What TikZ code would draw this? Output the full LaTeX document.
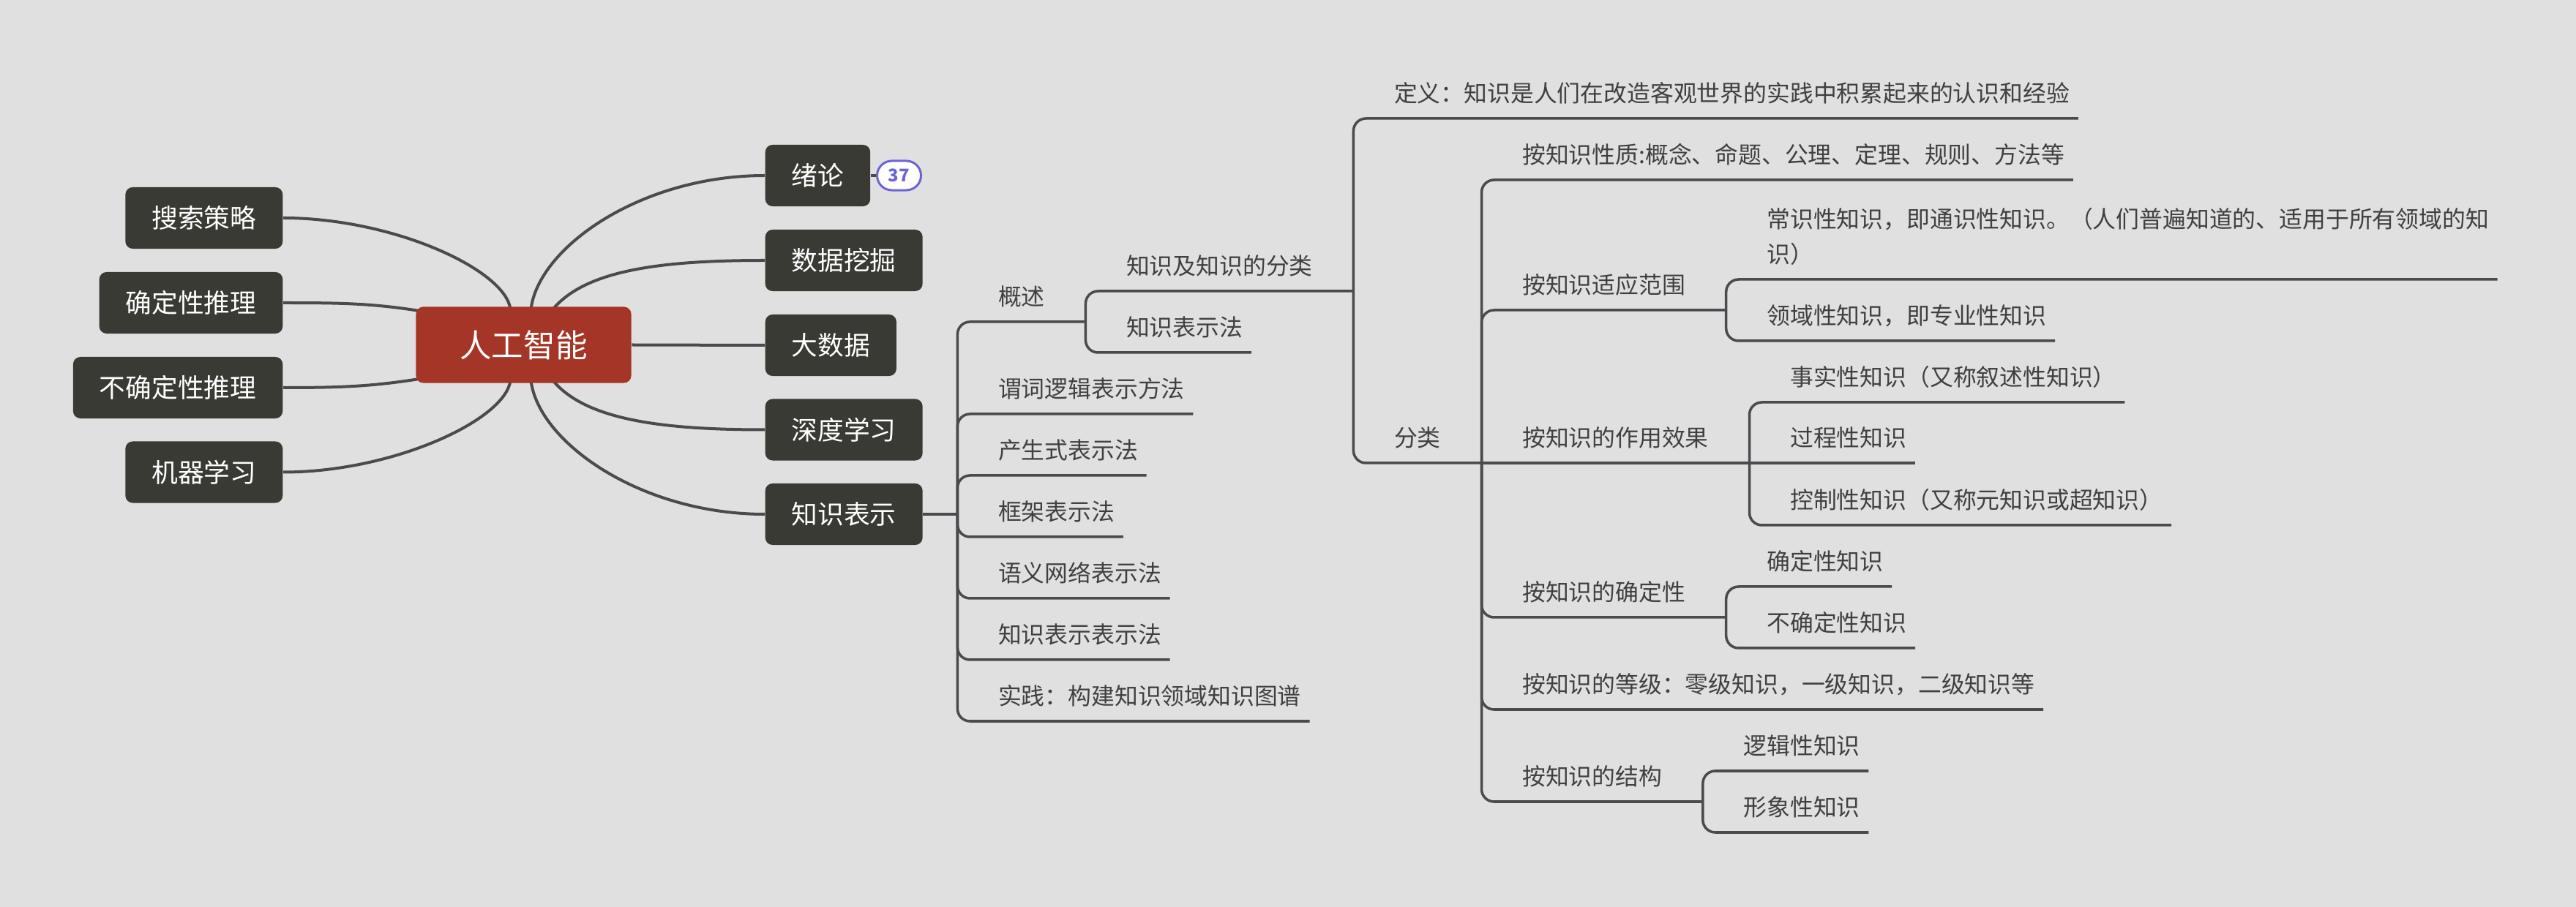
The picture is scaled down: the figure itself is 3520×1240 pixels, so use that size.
\documentclass[tikz,border=0pt]{standalone}
\usepackage{fontspec}
\setmainfont{Noto Sans CJK SC}
\usetikzlibrary{calc}
\definecolor{bgc}{HTML}{E0E0E0}
\definecolor{boxc}{HTML}{393A33}
\definecolor{centc}{HTML}{A53526}
\definecolor{linec}{HTML}{4A4A4F}
\definecolor{txtc}{HTML}{404040}
\definecolor{badgec}{HTML}{6A64D8}
\newcommand\dst{\rule[-0.22cm]{0pt}{0.22cm}}
\pgfdeclarelayer{backfill}
\pgfdeclarelayer{lines}
\pgfsetlayers{backfill,lines,main}
\tikzset{
  topic/.style={fill=boxc, text=white, rounded corners=0.1cm, minimum height=0.84cm,
    inner xsep=0.36cm, inner ysep=0pt, font=\fontsize{10.16pt}{12pt}\selectfont},
  central/.style={fill=centc, text=white, rounded corners=0.1cm, minimum height=1.04cm,
    minimum width=2.94cm, inner sep=0pt, font=\fontsize{12.38pt}{14pt}\selectfont},
  lblm/.style={inner sep=0pt, anchor=south west, text=txtc, font=\fontsize{9.05pt}{13.57pt}\selectfont},
  lbl/.style={lblm, execute at begin node=\dst},
  conn/.style={draw=linec, line width=0.035cm, rounded corners=0.17cm},
  curve/.style={draw=linec, line width=0.04cm},
  badge/.style={draw=badgec, line width=0.03cm, fill=white, text=badgec, rounded corners=0.2cm,
    minimum width=0.6cm, minimum height=0.4cm, inner sep=0pt,
    font=\fontsize{6.8pt}{8pt}\selectfont\bfseries}
}
\begin{document}
\begin{tikzpicture}[x=0.01cm, y=-0.01cm]
\begin{pgfonlayer}{backfill}
  \fill[bgc] (0,0) rectangle (3520,1240);
\end{pgfonlayer}
\useasboundingbox (0,0) rectangle (3520,1240);

% main topics
\node[central] (ai) at (715.5,471.5) {人工智能};
\node[topic, anchor=east] (ss) at (387,298) {搜索策略};
\node[topic, anchor=east] (qdtl) at (387,414) {确定性推理};
\node[topic, anchor=east] (bqd) at (387,530) {不确定性推理};
\node[topic, anchor=east] (jq) at (387,645.5) {机器学习};
\node[topic, anchor=west] (xl) at (1045,240) {绪论};
\node[topic, anchor=west] (sj) at (1045,356) {数据挖掘};
\node[topic, anchor=west] (dsj) at (1045,472) {大数据};
\node[topic, anchor=west] (sd) at (1045,587.5) {深度学习};
\node[topic, anchor=west] (kr) at (1045,703) {知识表示};
\node[badge, anchor=west] (b37) at (1197,240) {37};

% tree labels
\coordinate (kj) at ($(kr.east)+(47,0)$);
\node[lbl] (gs) at ($(kj)+(55,-263)$) {概述};
\node[lbl] (wc) at ($(kj)+(55,-137)$) {谓词逻辑表示方法};
\node[lbl] (cs) at ($(kj)+(55,-53)$) {产生式表示法};
\node[lbl] (kjia) at ($(kj)+(55,31)$) {框架表示法};
\node[lbl] (yy) at ($(kj)+(55,115)$) {语义网络表示法};
\node[lbl] (zs) at ($(kj)+(55,199)$) {知识表示表示法};
\node[lbl] (sjian) at ($(kj)+(55,283)$) {实践：构建知识领域知识图谱};

\coordinate (gsj) at ($(gs.south east)+(55,0)$);
\node[lbl] (fl) at ($(gsj)+(55,-42)$) {知识及知识的分类};
\node[lbl] (bsf) at ($(gsj)+(55,42)$) {知识表示法};

\coordinate (flj) at ($(fl.south east)+(55,0)$);
\node[lbl] (dy) at ($(flj)+(55,-236)$) {定义：知识是人们在改造客观世界的实践中积累起来的认识和经验};
\node[lbl] (fenl) at ($(flj)+(55,235)$) {分类};

\coordinate (fenj) at ($(fenl.south east)+(55,0)$);
\node[lbl] (xz) at ($(fenj)+(55,-387)$) {按知识性质:概念、命题、公理、定理、规则、方法等};
\node[lbl] (syfw) at ($(fenj)+(55,-209)$) {按知识适应范围};
\node[lbl] (zyxg) at ($(fenj)+(55,0)$) {按知识的作用效果};
\node[lbl] (qdx) at ($(fenj)+(55,211)$) {按知识的确定性};
\node[lbl] (dj) at ($(fenj)+(55,337)$) {按知识的等级：零级知识，一级知识，二级知识等};
\node[lbl] (jgou) at ($(fenj)+(55,463)$) {按知识的结构};

\coordinate (syj) at ($(syfw.south east)+(55,0)$);
\node[lblm, align=left] (cszs) at ($(syj)+(55,-42)$) {常识性知识，即通识性知识。（人们普遍知道的、适用于所有领域的知\\识）\dst};
\node[lbl] (lyzs) at ($(syj)+(55,42)$) {领域性知识，即专业性知识};

\coordinate (zyj) at ($(zyxg.south east)+(55,0)$);
\node[lbl] (sszs) at ($(zyj)+(55,-83)$) {事实性知识（又称叙述性知识）};
\node[lbl] (gczs) at ($(zyj)+(55,0)$) {过程性知识};
\node[lbl] (kzzs) at ($(zyj)+(55,85)$) {控制性知识（又称元知识或超知识）};

\coordinate (qdj) at ($(qdx.south east)+(55,0)$);
\node[lbl] (qdzs) at ($(qdj)+(55,-42)$) {确定性知识};
\node[lbl] (bqdzs) at ($(qdj)+(55,42)$) {不确定性知识};

\coordinate (jgj) at ($(jgou.south east)+(55,0)$);
\node[lbl] (ljzs) at ($(jgj)+(55,-42)$) {逻辑性知识};
\node[lbl] (xxzs) at ($(jgj)+(55,42)$) {形象性知识};

\begin{pgfonlayer}{lines}
  % curves from the central topic
  \draw[curve] ($(ai.north)+(-18,4)$) .. controls +(-7,-54) and +(150,0) .. (ss.east);
  \draw[curve] ($(ai.north west)+(4,6)$) .. controls +(-64,-10) and +(80,0) .. (qdtl.east);
  \draw[curve] ($(ai.south west)+(4,-6)$) .. controls +(-64,10) and +(80,0) .. (bqd.east);
  \draw[curve] ($(ai.south)+(-18,-4)$) .. controls +(-7,54) and +(150,0) .. (jq.east);
  \draw[curve] ($(ai.north)+(10,4)$) .. controls +(10,-84) and +(-170,0) .. (xl.west);
  \draw[curve] ($(ai.north)+(40,4)$) .. controls +(45,-54) and +(-140,0) .. (sj.west);
  \draw[curve] (ai.east) -- (dsj.west);
  \draw[curve] ($(ai.south)+(40,-4)$) .. controls +(45,54) and +(-140,0) .. (sd.west);
  \draw[curve] ($(ai.south)+(10,-4)$) .. controls +(10,84) and +(-170,0) .. (kr.west);
  \draw[conn] (xl.east) -- (b37.west);

  % tree connectors
  \draw[conn] (kr.east) -- (kj);
  \draw[conn] (kj) |- (gsj);
  \draw[conn] (kj) |- ($(wc.south east)+(11,0)$);
  \draw[conn] (kj) |- ($(cs.south east)+(11,0)$);
  \draw[conn] (kj) |- ($(kjia.south east)+(11,0)$);
  \draw[conn] (kj) |- ($(yy.south east)+(11,0)$);
  \draw[conn] (kj) |- ($(zs.south east)+(11,0)$);
  \draw[conn] (kj) |- ($(sjian.south east)+(11,0)$);

  \draw[conn] (gsj) |- (flj);
  \draw[conn] (gsj) |- ($(bsf.south east)+(11,0)$);

  \draw[conn] (flj) |- ($(dy.south east)+(11,0)$);
  \draw[conn] (flj) |- (fenj);

  \draw[conn] (fenj) |- ($(xz.south east)+(11,0)$);
  \draw[conn] (fenj) |- (syj);
  \draw[conn] (fenj) -- (zyj);
  \draw[conn] (fenj) |- (qdj);
  \draw[conn] (fenj) |- ($(dj.south east)+(11,0)$);
  \draw[conn] (fenj) |- (jgj);

  \draw[conn] (syj) |- ($(cszs.south east)+(11,0)$);
  \draw[conn] (syj) |- ($(lyzs.south east)+(11,0)$);

  \draw[conn] (zyj) |- ($(sszs.south east)+(11,0)$);
  \draw[conn] (zyj) -- ($(gczs.south east)+(11,0)$);
  \draw[conn] (zyj) |- ($(kzzs.south east)+(11,0)$);

  \draw[conn] (qdj) |- ($(qdzs.south east)+(11,0)$);
  \draw[conn] (qdj) |- ($(bqdzs.south east)+(11,0)$);

  \draw[conn] (jgj) |- ($(ljzs.south east)+(11,0)$);
  \draw[conn] (jgj) |- ($(xxzs.south east)+(11,0)$);
\end{pgfonlayer}
\end{tikzpicture}
\end{document}
